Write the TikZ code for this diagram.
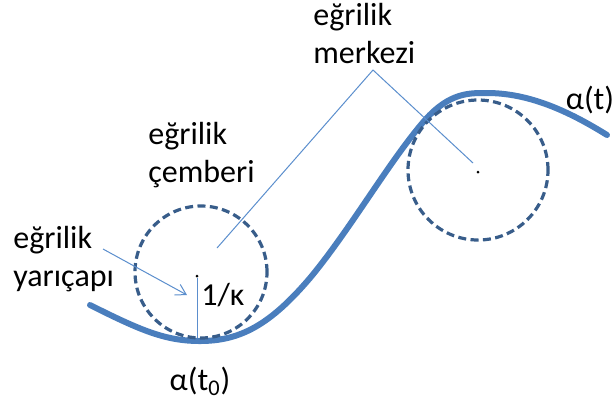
\documentclass[tikz,border=0pt]{standalone}
\usepackage{fontspec}
\setmainfont{Carlito}
\usetikzlibrary{arrows.meta, positioning}

\definecolor{egriMavi}{RGB}{74,126,189}
\definecolor{cemberMavi}{RGB}{56,93,138}
\definecolor{okMavi}{RGB}{91,142,205}

\begin{document}
\begin{tikzpicture}[
    x=0.5pt, y=-0.5pt,
    egri/.style={line width=3pt, draw=egriMavi, line cap=round},
    cember/.style={
        circle, draw=cemberMavi, line width=1.6pt,
        dash pattern=on 4pt off 2.2pt, inner sep=0pt,
    },
    etiket/.style={font=\fontsize{16}{19}\selectfont, inner sep=0pt, align=left},
    isaret/.style={line width=0.5pt, draw=okMavi},
    ok/.style={isaret, -{Straight Barb[length=5pt, width=6pt]}},
    nokta/.style={circle, fill=black, inner sep=0pt, minimum size=1.5pt},
]
\useasboundingbox (0,0) rectangle (615,404);

% === CURVE alpha(t) ===
\draw[egri] (90,305) .. controls (140,330) and (165,341) .. (200,341)
    .. controls (240,341) and (270,325) .. (310,278)
    .. controls (350,230) and (390,160) .. (425,120)
    .. controls (450,92) and (470,93) .. (487,93)
    .. controls (530,93) and (570,112) .. (607,135);

% Osculating circles
\node[cember, minimum size=66pt] (solcember) at (201,272) {};
\node[cember, minimum size=70pt] (sagcember) at (478,170) {};

% Centres and radius
\node[nokta] (solmerkez) at (197,276) {};
\node[nokta] (sagmerkez) at (478,172) {};
\coordinate (tabani) at (197,338);
\draw[isaret] (solmerkez) -- (tabani);

% === LABELS ===
\node[etiket, anchor=north west] (merkezlbl) at (313,3) {eğrilik\\merkezi};
\node[etiket, anchor=north west] (cemberlbl) at (148,122) {eğrilik\\çemberi};
\node[etiket, anchor=north west] (yaricaplbl) at (13,226) {eğrilik\\yarıçapı};
\node[etiket, anchor=base west] (kappa) at (201,305) {1/κ};
\node[etiket] (a0) at (200,381) {α(t\textsubscript{0})};
\node[etiket] (at) at (590,100) {α(t)};

% Pointers
\coordinate (tepe) at (373,70);
\coordinate (soluc) at (217,248);
\coordinate (saguc) at (473,163);
\draw[isaret] (soluc) -- (tepe) -- (saguc);
\draw[ok] (103,249) coordinate (yaricapbas) -- (187,295) coordinate (yaricapuc);

\end{tikzpicture}
\end{document}
